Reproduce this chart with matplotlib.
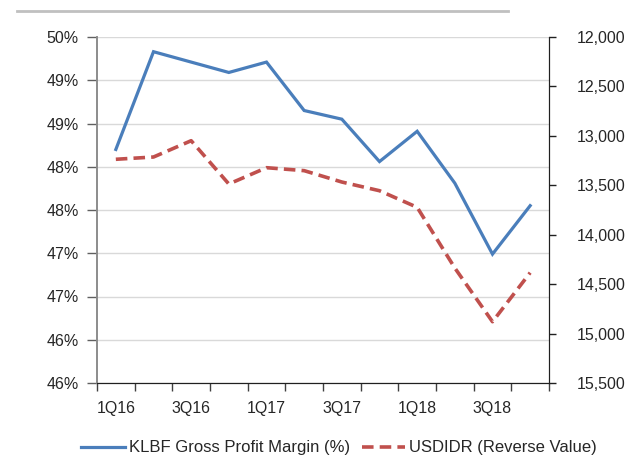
import matplotlib
matplotlib.use("Agg")
import matplotlib.pyplot as plt
from matplotlib.lines import Line2D
import numpy as np

plt.rcParams['font.family'] = ['Liberation Sans', 'DejaVu Sans']

quarters = ['1Q16', '2Q16', '3Q16', '4Q16', '1Q17', '2Q17', '3Q17', '4Q17',
            '1Q18', '2Q18', '3Q18', '4Q18']
# gross profit margin, %
gpm = [48.20, 49.33, 49.21, 49.09, 49.21, 48.65, 48.55, 48.06,
       48.41, 47.81, 46.99, 47.55]
# USDIDR, drawn on a reversed axis
usdidr = [13237, 13214, 13049, 13487, 13322, 13352, 13467, 13555,
          13723, 14337, 14880, 14384]

gpm_ticks = [45.5, 46.0, 46.5, 47.0, 47.5, 48.0, 48.5, 49.0, 49.5]
gpm_tick_labels = ['46%', '46%', '47%', '47%', '48%', '48%', '49%', '49%', '50%']
idr_ticks = [12000, 12500, 13000, 13500, 14000, 14500, 15000, 15500]
idr_tick_labels = ['12,000', '12,500', '13,000', '13,500', '14,000', '14,500',
                   '15,000', '15,500']

blue = '#4a7ebb'
red = '#c0504d'

fig = plt.figure(figsize=(6.41, 4.57), dpi=100)
ax = fig.add_axes([97 / 641, 1 - 383 / 457, 452 / 641, 346 / 457])
ax2 = ax.twinx()

x = np.arange(len(quarters))
l1, = ax.plot(x, gpm, color=blue, lw=2.3, solid_joinstyle='miter',
              label='KLBF Gross Profit Margin (%)')
l2, = ax2.plot(x, usdidr, color=red, lw=2.6, linestyle=(0, (3.2, 1.7)),
               label='USDIDR (Reverse Value)')

ax.set_xlim(-0.5, len(quarters) - 0.5)
ax.set_ylim(gpm_ticks[0], gpm_ticks[-1])
ax.set_yticks(gpm_ticks)
ax.set_yticklabels(gpm_tick_labels)
ax2.set_ylim(idr_ticks[-1], idr_ticks[0])
ax2.set_yticks(idr_ticks)
ax2.set_yticklabels(idr_tick_labels)

# category boundaries get tick marks, every other category gets a label
ax.set_xticks(np.arange(-0.5, len(quarters)))
ax.set_xticklabels([])
ax.set_xticks(x[::2], minor=True)
ax.set_xticklabels(quarters[::2], minor=True)
ax.tick_params(axis='x', which='major', length=6, width=1, color='#404040')
ax.tick_params(axis='x', which='minor', length=0, pad=13, labelsize=11.5,
               labelcolor='#262626')
ax.tick_params(axis='y', length=7, width=1, color='#606060', pad=6,
               labelsize=11.5, labelcolor='#262626')
ax2.tick_params(axis='y', length=5, width=1, color='#202020', pad=15,
                labelsize=11.5, labelcolor='#262626')

ax.grid(axis='y', color='#d9d9d9', lw=1)
ax.set_axisbelow(True)

for a in (ax, ax2):
    a.spines['top'].set_visible(False)
    a.spines['left'].set_color('#8c8c8c')
    a.spines['left'].set_linewidth(1.2)
    a.spines['right'].set_color('#202020')
    a.spines['bottom'].set_color('#202020')

fig.add_artist(Line2D([17 / 641, 508 / 641], [1 - 11 / 457, 1 - 11 / 457],
                      color='#c0c0c0', lw=2))

fig.legend(handles=[l1, l2], loc='center', bbox_to_anchor=(0.529, 0.02),
           ncol=2, frameon=False, fontsize=12, handlelength=2.6,
           columnspacing=0.7, handletextpad=0.25, labelcolor='#262626')

fig.savefig('out.png', dpi=100)
